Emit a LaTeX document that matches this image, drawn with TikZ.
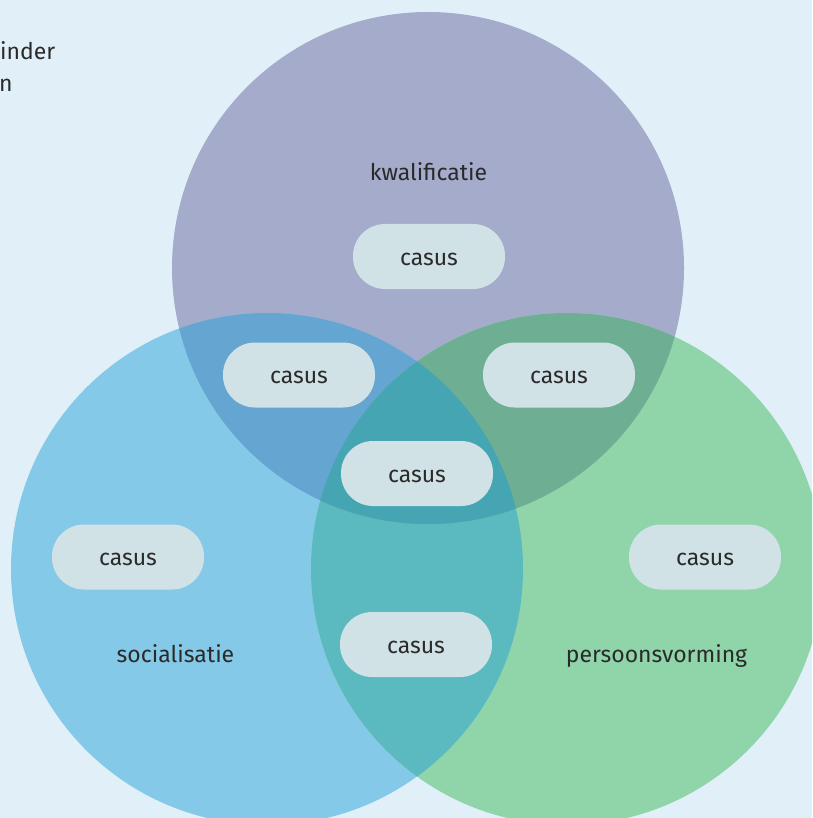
\documentclass[tikz,border=0pt]{standalone}
\usepackage{fontspec}
\setmainfont{Fira Sans}
\definecolor{bg}{HTML}{E1F0F8}
\definecolor{cpurple}{HTML}{A5ABCB}
\definecolor{cblue}{HTML}{84C9E8}
\definecolor{cgreen}{HTML}{90D4AA}
\definecolor{cbp}{HTML}{65A5D1}
\definecolor{cgp}{HTML}{6EAF93}
\definecolor{cbg}{HTML}{5BB9C0}
\definecolor{call}{HTML}{45A5B3}
\definecolor{cpill}{HTML}{D1E2E6}
\definecolor{ctext}{HTML}{2A2A2A}
\tikzset{
  pill/.style={fill=cpill, rounded corners=32pt, minimum width=152pt, minimum height=65pt, inner sep=0pt, text height=17pt, text depth=0pt, text=ctext, font=\fontsize{23}{27}\selectfont},
  lbl/.style={text=ctext, font=\fontsize{23}{27}\selectfont, anchor=base, inner sep=0pt}
}
\begin{document}
\begin{tikzpicture}[x=1pt,y=-1pt]
\useasboundingbox (0,0) rectangle (812,818);
\fill[bg] (0,0) rectangle (812,818);
\begin{scope}
\clip (0,0) rectangle (812,818);
\def\CT{(428,268) circle (256)}
\def\CL{(267,569) circle (256)}
\def\CR{(567,569) circle (256)}
\fill[cpurple] \CT;
\fill[cblue] \CL;
\fill[cgreen] \CR;
\begin{scope}\clip \CL; \fill[cbg] \CR;\end{scope}
\begin{scope}\clip \CT; \fill[cbp] \CL;\end{scope}
\begin{scope}\clip \CT; \fill[cgp] \CR;\end{scope}
\begin{scope}\clip \CT; \clip \CL; \fill[call] \CR;\end{scope}
\end{scope}

\node[lbl, anchor=base west] (t1) at (0,60) {inder};
\node[lbl, anchor=base west] (t2) at (-1,92) {n};

\node[lbl] (kw) at (428.5,180.5) {kwalificatie};
\node[lbl] (so) at (175.5,662) {socialisatie};
\node[lbl] (pe) at (656.5,662) {persoonsvorming};

\node[pill] (p1) at (429,256.5) {casus};
\node[pill] (p2) at (299,375) {casus};
\node[pill] (p3) at (559,375) {casus};
\node[pill] (p4) at (417,473.5) {casus};
\node[pill] (p5) at (128,557) {casus};
\node[pill] (p6) at (705,557) {casus};
\node[pill] (p7) at (416,644.5) {casus};
\end{tikzpicture}
\end{document}
